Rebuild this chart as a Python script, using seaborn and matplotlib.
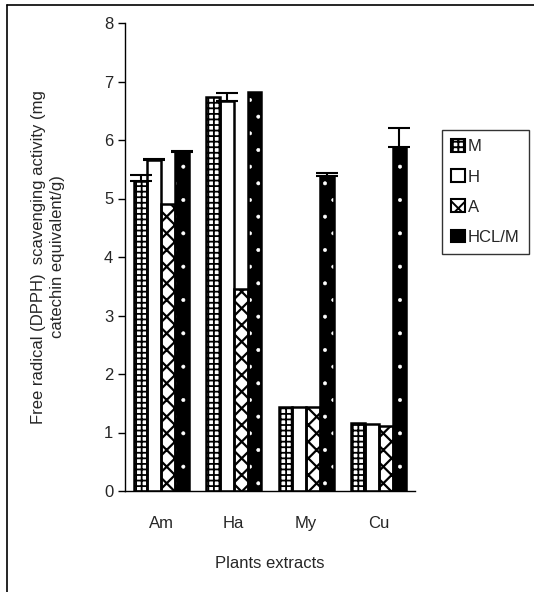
import numpy as np
import pandas as pd
import matplotlib
matplotlib.use("Agg")
import matplotlib.pyplot as plt
from matplotlib.patches import Rectangle, Patch
from matplotlib.lines import Line2D
import seaborn as sns

# ---- data ----
plants = ["Am", "Ha", "My", "Cu"]
extracts = ["M", "H", "A", "HCL/M"]
val_M = [5.30, 6.74, 1.44, 1.16]
val_H = [5.66, 6.67, 1.43, 1.14]
val_A = [4.90, 3.46, 1.44, 1.11]
val_HCL = [5.79, 6.82, 5.38, 5.88]
err_M = [0.10, 0.00, 0.00, 0.00]
err_H = [0.02, 0.13, 0.00, 0.00]
err_A = [0.00, 0.00, 0.00, 0.00]
err_HCL = [0.02, 0.00, 0.05, 0.33]
yticks = [0, 1, 2, 3, 4, 5, 6, 7, 8]

values = [val_M, val_H, val_A, val_HCL]
errors = [err_M, err_H, err_A, err_HCL]

rows = []
for e, vals in zip(extracts, values):
    for p, v in zip(plants, vals):
        rows.append({"plant": p, "extract": e, "value": v})
df = pd.DataFrame(rows)

sns.set_style("white")
plt.rcParams["font.family"] = ["Liberation Sans", "DejaVu Sans"]
plt.rcParams["hatch.linewidth"] = 1.4

fig = plt.figure(figsize=(5.34, 5.92), dpi=100)
ax = fig.add_axes([125 / 534, 1 - 491 / 592, 290 / 534, 468 / 592])

styles = {
    "M": dict(face="white", hatch="+++", hcol="black", hlw=1.3),
    "H": dict(face="white", hatch="", hcol="black", hlw=1.0),
    "A": dict(face="white", hatch="xx", hcol="black", hlw=1.6),
    "HCL/M": dict(face="black", hatch=".", hcol="white", hlw=0.4),
}

sns.barplot(data=df, x="plant", y="value", hue="extract", order=plants,
            hue_order=extracts, palette=["white"] * 4, width=0.76, gap=0,
            errorbar=None, legend=False, ax=ax, saturation=1)


def style_patch(p, st):
    p.set_facecolor(st["face"])
    p.set_hatch(st["hatch"])
    p.set_edgecolor(st["hcol"])
    try:
        p.set_hatch_linewidth(st["hlw"])
    except Exception:
        pass


for e, cont, errs in zip(extracts, ax.containers, errors):
    st = styles[e]
    for bar, er in zip(cont.patches, errs):
        style_patch(bar, st)
        bar.set_linewidth(0)
        ax.add_patch(Rectangle(bar.get_xy(), bar.get_width(), bar.get_height(),
                               fill=False, edgecolor="black", linewidth=1.8,
                               zorder=bar.get_zorder() + 0.1))
        if er > 0:
            xc = bar.get_x() + bar.get_width() / 2
            ax.errorbar([xc], [bar.get_height()], yerr=[[0], [er]], fmt="none",
                        ecolor="black", elinewidth=1.5, capsize=8, capthick=1.5,
                        zorder=5)

ax.set_ylim(0, 8)
ax.set_xlim(-0.5, len(plants) - 0.5)
ax.set_yticks(yticks)
ax.set_yticklabels([str(t) for t in yticks])
ax.set_xticks(range(len(plants)))
ax.set_xticklabels(plants)
ax.set_xticks(np.arange(-0.5, len(plants), 1.0), minor=True)
ax.tick_params(axis="x", which="major", length=0, labelsize=12, pad=18)
ax.tick_params(axis="x", which="minor", length=5, width=1, color="black", direction="out")
ax.tick_params(axis="y", length=5, width=1, color="black", direction="out", labelsize=12, left=True)
for s in ["top", "right"]:
    ax.spines[s].set_visible(False)
for s in ["left", "bottom"]:
    ax.spines[s].set_color("black")
    ax.spines[s].set_linewidth(1)

ax.set_xlabel("Plants extracts", fontsize=12, labelpad=18)
ax.set_ylabel("Free radical (DPPH)  scavenging activity (mg\ncatechin equivalent/g)",
              fontsize=12, labelpad=28, linespacing=1.3)

handles = []
for e in extracts:
    st = styles[e]
    h = Patch(facecolor=st["face"], edgecolor="black", hatch=st["hatch"], linewidth=1.5)
    handles.append(h)
leg = fig.legend(handles, extracts, loc="upper left",
                 bbox_to_anchor=(442 / 534, 1 - 130 / 592), frameon=True,
                 fontsize=12, handlelength=0.8, handleheight=0.8, handletextpad=0.2,
                 labelspacing=0.9, borderpad=0.55, fancybox=False, borderaxespad=0)
leg.get_frame().set_edgecolor("black")
leg.get_frame().set_linewidth(1)

fig.add_artist(Line2D([7 / 534, 7 / 534], [0, 1 - 5 / 592], color="black", linewidth=1.2))
fig.add_artist(Line2D([7 / 534, 1], [1 - 5 / 592, 1 - 5 / 592], color="black", linewidth=1.2))

fig.savefig("out.png", dpi=100)
